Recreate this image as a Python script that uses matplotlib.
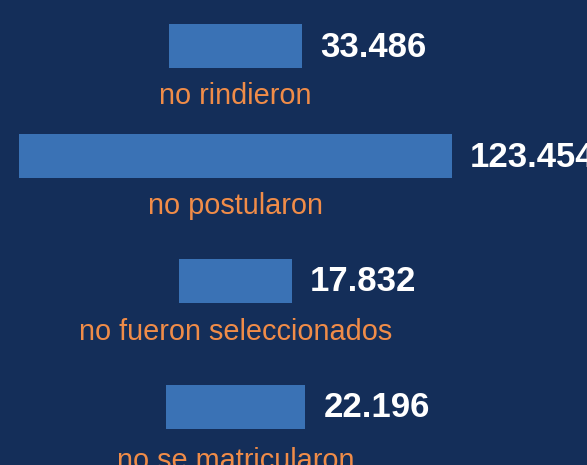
import matplotlib
matplotlib.use("Agg")
import matplotlib.pyplot as plt

# data
categories = ["no rindieron", "no postularon", "no fueron seleccionados", "no se matricularon"]
values = [33486, 123454, 17832, 22196]
value_labels = ["33.486", "123.454", "17.832", "22.196"]
# bar lengths as drawn in the picture (not proportional to the values)
bar_len = [38200, 123454, 32200, 39900]

bg = "#142e59"
bar_color = "#3a72b5"
label_color = "#f08c48"

plt.rcParams["font.family"] = ["Liberation Sans", "DejaVu Sans"]

fig = plt.figure(figsize=(5.87, 4.65), dpi=100)
fig.patch.set_facecolor(bg)
ax = fig.add_axes([0, 0, 1, 1])
ax.set_facecolor(bg)

k = 123454 / 433.0   # data units per pixel
center = 235.5
ax.set_xlim(-center * k, (587 - center) * k)
ax.set_ylim(465, 0)

# row centers (pixels from top)
row_y = [46, 156, 280.5, 406.5]
label_off = [-36, -36, -37, -39]

ax.barh(row_y, bar_len, height=44, left=[-w / 2 for w in bar_len], color=bar_color)

for y, w, lab, cat, off in zip(row_y, bar_len, value_labels, categories, label_off):
    ax.annotate(lab, (w / 2, y), xytext=(13, -1), textcoords="offset points",
                ha="left", va="center", color="white", fontsize=25, fontweight="bold")
    ax.annotate(cat, (0, y), xytext=(0, off), textcoords="offset points",
                ha="center", va="center", color=label_color, fontsize=20.8)

ax.axis("off")
fig.savefig("out.png", dpi=100, facecolor=bg)
